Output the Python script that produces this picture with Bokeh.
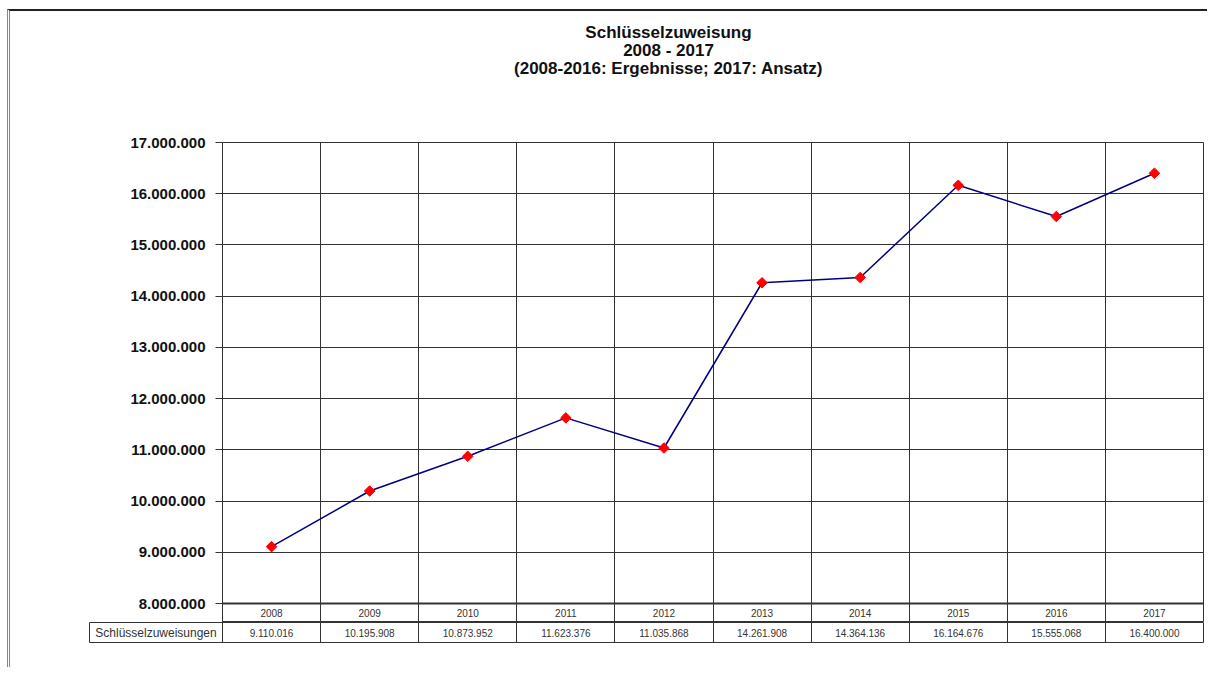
from bokeh.plotting import figure
from bokeh.models import (Span, FixedTicker, CustomJSTickFormatter, ColumnDataSource, Range1d)
from bokeh.core.properties import value
from bokeh.embed import file_html
from bokeh.resources import INLINE

# ---- data ----
years = ["2008", "2009", "2010", "2011", "2012", "2013", "2014", "2015", "2016", "2017"]
amounts = [9110016, 10195908, 10873952, 11623376, 11035868, 14261908, 14364136, 16164676, 15555068, 16400000]
series_name = "Schlüsselzuweisungen"
title_lines = ["Schlüsselzuweisung", "2008 - 2017", "(2008-2016: Ergebnisse; 2017: Ansatz)"]
y_ticks = [8000000, 9000000, 10000000, 11000000, 12000000, 13000000, 14000000, 15000000, 16000000, 17000000]

def de(n):
    return f"{int(n):,}".replace(",", ".")

# ---- layout (page pixels) ----
OX, OY = 10, 11              # content origin inside the page frame
W = 1200                     # content width
PX_L, PX_R = 222, 1203       # plot frame left/right
PX_TOP, PX_AXIS = 142, 603   # 17.000.000 / 8.000.000
PX_ROW, PX_BOT = 622, 642    # table row boundaries
PX_CELL_L = 89
TITLE_BOTTOM = 120
Y_MIN, Y_MAX = y_ticks[0], y_ticks[-1]
per_px = (Y_MAX - Y_MIN) / (PX_AXIS - PX_TOP)
ncat = len(years)
col_px = (PX_R - PX_L) / ncat

def ypx(py):
    return Y_MIN + (PX_AXIS - py) * per_px

def xpx(px):
    return (px - PX_L) / col_px

FONT = "Liberation Sans"
LINE = "#333333"
LEFT_BORDER = {"border-left": "3px double #888888", "margin-left": "7px"}

# ---- title figure ----
TH = TITLE_BOTTOM - OY
tf = figure(width=W, height=TH + 2, output_backend="svg", toolbar_location=None,
            x_range=Range1d(OX, OX + W), y_range=Range1d(OY + TH, OY),
            min_border=0,
            styles=dict(LEFT_BORDER, **{"border-top": "2px solid #222222", "margin-top": "9px"}))
tf.axis.visible = False
tf.grid.visible = False
tf.outline_line_color = None
tsrc = ColumnDataSource(dict(x=[668, 668, 668], y=[32, 49, 67], t=title_lines))
tf.text(x="x", y="y", text="t", source=tsrc, text_align="center", text_baseline="middle",
        text_font=value(FONT), text_font_size="17px", text_font_style="bold", text_color="#111111")

# ---- main plot ----
MH = PX_ROW - TITLE_BOTTOM
p = figure(width=W, height=MH, output_backend="svg", toolbar_location=None,
           x_range=Range1d(0, ncat), y_range=Range1d(ypx(PX_ROW), Y_MAX),
           min_border_left=PX_L - OX, min_border_right=W - (PX_R - OX),
           min_border_top=PX_TOP - TITLE_BOTTOM, min_border_bottom=0,
           styles=dict(LEFT_BORDER))
p.background_fill_color = "white"
p.border_fill_color = "white"
p.outline_line_color = LINE
p.outline_line_width = 1

p.xaxis.visible = False
ya = p.yaxis[0]
ya.ticker = FixedTicker(ticks=y_ticks)
ya.formatter = CustomJSTickFormatter(code="return Math.round(tick).toString().replace(/\\B(?=(\\d{3})+(?!\\d))/g, '.');")
ya.major_label_text_font = FONT
ya.major_label_text_font_size = "15px"
ya.major_label_text_font_style = "bold"
ya.major_label_text_color = "#111111"
ya.major_tick_out = 7
ya.major_tick_in = 0
ya.minor_tick_out = 0
ya.minor_tick_in = 0
ya.major_label_standoff = 10
ya.axis_line_color = LINE
ya.major_tick_line_color = LINE

p.ygrid.ticker = FixedTicker(ticks=y_ticks)
p.ygrid.grid_line_color = LINE
p.ygrid.grid_line_width = 1
p.xgrid.ticker = FixedTicker(ticks=list(range(ncat + 1)))
p.xgrid.grid_line_color = LINE
p.xgrid.grid_line_width = 1

p.add_layout(Span(location=Y_MIN, dimension="width", line_color=LINE, line_width=2))

xs = [i + 0.5 for i in range(ncat)]
src = ColumnDataSource(dict(x=xs, y=amounts, year=years, label=[de(v) for v in amounts]))

p.line("x", "y", source=src, line_color="#000080", line_width=1.5)
p.scatter("x", "y", source=src, marker="square", angle=0.7854, size=7.5,
          fill_color="#FF0000", line_color="#FF0000")

p.text(x="x", y=ypx(612), text="year", source=src, text_align="center", text_baseline="middle",
       text_font=value(FONT), text_font_size="10px", text_color="#333333")

# ---- table row figure ----
BH = 675 - 8 - PX_ROW
tb = figure(width=W, height=BH, output_backend="svg", toolbar_location=None,
            x_range=Range1d(xpx(PX_CELL_L), ncat), y_range=Range1d(ypx(PX_BOT), ypx(PX_ROW)),
            min_border_left=PX_CELL_L - OX, min_border_right=W - (PX_R - OX),
            min_border_top=0, min_border_bottom=BH - (PX_BOT - PX_ROW),
            styles=dict(LEFT_BORDER))
tb.axis.visible = False
tb.ygrid.visible = False
tb.xgrid.ticker = FixedTicker(ticks=list(range(ncat + 1)))
tb.xgrid.grid_line_color = LINE
tb.outline_line_color = LINE
tb.outline_line_width = 1
tb.text(x="x", y=ypx(632), text="label", source=src, text_align="center", text_baseline="middle",
        text_font=value(FONT), text_font_size="10px", text_color="#333333")
tb.text(x=[xpx(PX_CELL_L) / 2], y=[ypx(632)], text=[series_name], text_align="center",
        text_baseline="middle", text_font=value(FONT), text_font_size="12px", text_color="#333333")

open("out.html", "w").write(file_html([tf, p, tb], INLINE))
